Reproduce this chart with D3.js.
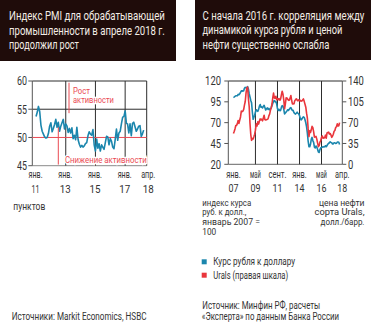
<!DOCTYPE html>
<html><head><meta charset="utf-8">
<script src="https://cdn.jsdelivr.net/npm/d3@7"></script>
<style>
html,body{margin:0;padding:0;background:#fff;}
svg{display:block;}
text{font-family:Roboto,"Noto Sans","DejaVu Sans",sans-serif;}
</style></head><body>
<svg id="c" width="371" height="324"></svg>
<script>
// ---------- DATA ----------
// Left chart: Russia manufacturing PMI, monthly Jan 2011 .. Apr 2018
const pmiStart = [2011, 0];
const pmiValues = [
 53.7,54.5,55.5,54.6,52.2,51.1,50.6,50.1,49.9,50.0,50.7,52.0,
 52.6,51.0,51.6,52.3,53.2,51.8,52.7,51.1,52.0,52.6,53.2,51.5,
 52.4,52.0,50.9,51.6,50.8,51.7,49.8,50.4,49.6,51.8,49.6,48.8,
 48.3,48.6,48.3,48.5,48.9,49.1,50.3,51.0,50.6,50.4,51.4,48.7,
 47.6,49.7,48.1,48.9,47.6,48.7,48.3,47.9,49.1,50.2,50.1,48.7,
 49.8,49.3,48.3,48.0,49.6,51.5,49.5,50.8,51.1,52.4,53.6,53.7,
 54.7,52.5,52.4,50.8,52.4,50.3,52.5,52.7,51.9,51.1,51.5,52.0,
 52.1,50.2,50.6,51.3
];
const pmiYTicks = [45, 50, 55, 60];
const pmiXTicks = [
  {date:[2011,0], l1:"янв.", l2:"11"},
  {date:[2013,0], l1:"янв.", l2:"13"},
  {date:[2015,0], l1:"янв.", l2:"15"},
  {date:[2017,0], l1:"янв.", l2:"17"},
  {date:[2018,3], l1:"апр.", l2:"18"}
];
// Right chart: monthly Jan 2007 .. Apr 2018
const fxStart = [2007, 0];
const rubIndex = [ // ruble vs USD index, Jan 2007 = 100
 100,100.8,101.5,102.3,102.3,102.3,103.9,103.5,104.7,106.4,108.2,107.7,
 108.2,108.2,111.3,112.3,111.8,112.3,113.2,110.4,104.7,100.8,96.7,94.0,
 82.8,74.0,76.6,78.9,82.8,85.5,84.1,83.6,86.0,89.8,91.7,88.6,
 88.9,87.7,89.5,90.8,88.3,85.2,86.6,87.7,85.8,87.2,85.5,86.3,
 88.0,90.4,93.0,95.5,96.5,95.0,95.5,92.3,86.9,84.7,86.0,84.4,
 84.7,88.6,90.4,89.8,86.0,80.5,81.5,82.8,84.1,85.5,84.7,86.0,
 87.5,88.0,86.0,84.7,84.7,82.0,81.0,80.3,81.3,82.6,81.3,80.5,
 78.4,75.1,73.2,74.2,75.9,77.0,76.4,73.4,69.9,65.0,57.4,47.7,
 41.2,41.0,44.0,50.0,52.3,48.5,46.4,40.6,39.7,42.0,40.7,38.0,
 34.7,34.3,37.6,39.7,40.3,40.6,41.2,40.8,41.0,42.3,41.1,42.6,
 44.2,45.4,45.6,47.0,46.3,45.8,44.4,44.5,45.9,45.9,44.9,45.2,
 46.7,46.7,46.5,43.8
];
const urals = [ // USD/bbl, right axis
 51.9,55.5,59.5,65.2,65.4,68.4,73.7,68.8,74.5,79.6,89.5,88.5,
 89.5,92.3,99.4,105.6,119.5,128.3,129.7,110.5,96.8,69.4,50.0,40.3,
 43.2,42.6,46.2,50.6,57.4,68.1,64.4,71.5,67.6,72.8,76.3,74.6,
 75.9,73.0,77.3,82.5,75.3,74.5,74.8,75.6,76.4,81.3,84.3,90.7,
 94.6,101.3,111.4,119.7,111.6,111.0,114.4,108.4,110.5,108.7,110.4,107.6,
 110.1,117.0,122.8,117.7,108.4,93.3,101.0,111.6,111.5,109.2,107.5,107.8,
 111.2,115.5,107.6,101.6,101.6,101.7,107.0,108.7,110.2,107.7,106.7,108.3,
 106.8,107.5,106.2,106.3,108.0,109.9,105.8,101.0,96.0,86.0,77.5,60.3,
 46.6,56.5,53.4,57.9,63.8,61.5,55.0,45.7,46.3,46.9,42.3,35.9,
 29.7,31.5,37.2,39.7,45.3,47.6,44.0,44.4,44.8,49.0,44.0,52.7,
 53.5,54.1,50.8,51.8,49.4,45.3,47.4,50.5,55.5,56.8,61.8,63.1,
 68.0,64.3,64.9,70.0
];
const fxLeftTicks = [20, 45, 70, 95, 120];
const fxRightTicks = [0, 35, 70, 105, 140];
const fxXTicks = [
  {date:[2007,0], l1:"янв.", l2:"07"},
  {date:[2009,4], l1:"май", l2:"09"},
  {date:[2011,8], l1:"сент.", l2:"11"},
  {date:[2014,0], l1:"янв.", l2:"14"},
  {date:[2016,4], l1:"май", l2:"16"},
  {date:[2018,3], l1:"апр.", l2:"18"}
];
const titleLeft = ["Индекс PMI для обрабатывающей","промышленности в апреле 2018 г.","продолжил рост"];
const titleRight = ["С начала 2016 г. корреляция между","динамикой курса рубля и ценой","нефти существенно ослабла"];
const legendItems = [{label:"Курс рубля к доллару", key:"blue"},{label:"Urals (правая шкала)", key:"red"}];

// ---------- DRAW ----------
const BLUE = "#1b86ad", RED = "#e9363c", PINK = "#ea4a53", GRID = "#2d2d2d", TXT = "#333";
const svg = d3.select("#c");
const md = (s, i) => new Date(s[0], s[1] + i, 1);

// text helper: natural font, horizontally condensed to a target width
function txt(g, x, y, s, o = {}) {
  const t = g.append("text").attr("x", 0).attr("y", 0).text(s)
    .attr("font-size", o.size || 11).attr("fill", o.fill || TXT)
    .attr("text-anchor", o.anchor || "start");
  let tr = `translate(${x},${y})`;
  if (o.len) {
    const w = t.node().getComputedTextLength();
    if (w > 0) tr += ` scale(${(o.len / w).toFixed(4)},1)`;
  }
  t.attr("transform", tr);
  return t;
}

// headers
svg.append("rect").attr("x",0).attr("y",0).attr("width",176).attr("height",61).attr("fill","#1f0c0a");
svg.append("rect").attr("x",195).attr("y",0).attr("width",176).attr("height",60).attr("fill","#1f0c0a");
const tl = [156,156,70], tr = [162,140,127];
titleLeft.forEach((s,i)=>txt(svg, 9, 20+i*14.7, s, {size:12.3, fill:"#f3ece6", len:tl[i]}));
titleRight.forEach((s,i)=>txt(svg, 202.5, 20+i*14.3, s, {size:12, fill:"#f3ece6", len:tr[i]}));

// ---- left chart ----
const xL = d3.scaleTime().domain([new Date(2010,9,1), new Date(2018,5,15)]).range([32.3,146.7]);
const yL = d3.scaleLinear().domain([45,60]).range([165.7,81]);
const gL = svg.append("g");
[55,60].forEach(v=>gL.append("line").attr("x1",xL.range()[0]).attr("x2",xL.range()[1])
  .attr("y1",yL(v)).attr("y2",yL(v)).attr("stroke",GRID).attr("stroke-width",1));
gL.append("line").attr("x1",xL.range()[0]).attr("x2",xL.range()[1]).attr("y1",yL(45)).attr("y2",yL(45))
  .attr("stroke","#8a8a8a").attr("stroke-width",1);
pmiXTicks.slice(1,4).forEach(t=>gL.append("line").attr("x1",xL(md(t.date,0))).attr("x2",xL(md(t.date,0)))
  .attr("y1",yL(60)).attr("y2",yL(45)).attr("stroke",GRID));
gL.append("line").attr("x1",xL.range()[1]).attr("x2",xL.range()[1]).attr("y1",yL(60)).attr("y2",yL(45)).attr("stroke",GRID);
gL.append("line").attr("x1",xL.range()[0]).attr("x2",xL.range()[0]).attr("y1",yL(60)).attr("y2",yL(45)).attr("stroke","#555");
pmiYTicks.forEach(v=>{
  gL.append("line").attr("x1",xL.range()[0]-4).attr("x2",xL.range()[0]).attr("y1",yL(v)).attr("y2",yL(v)).attr("stroke","#555");
  txt(gL, 27, yL(v)+4.3, v, {size:12.5, anchor:"end", len:10});
});
gL.append("line").attr("x1",xL.range()[0]).attr("x2",xL.range()[1]).attr("y1",yL(50)).attr("y2",yL(50))
  .attr("stroke",PINK).attr("stroke-width",1);
gL.append("path").datum(pmiValues).attr("fill","none").attr("stroke",BLUE).attr("stroke-width",1.6)
  .attr("stroke-linejoin","round")
  .attr("d", d3.line().x((d,i)=>xL(md(pmiStart,i))).y(d=>yL(d)));
// annotations
gL.append("line").attr("x1",69).attr("x2",69).attr("y1",yL(59.7)).attr("y2",yL(54.3)).attr("stroke",PINK).attr("stroke-width",1);
gL.append("line").attr("x1",58.3).attr("x2",58.3).attr("y1",yL(51.8)).attr("y2",yL(45.2)).attr("stroke",PINK).attr("stroke-width",1);
const ann = (x,y,s,len)=>txt(gL,x,y,s,{size:9, fill:PINK, len:len}).attr("stroke","#fff").attr("stroke-width",2.5)
  .attr("paint-order","stroke");
ann(73,93.5,"Рост",17);
ann(73,103.3,"активности",41);
ann(65,162.7,"Снижение активности",82);
pmiXTicks.forEach((t,i)=>{
  const x = xL(md(t.date,0)) + (i===4?4.5:-0.5);
  txt(gL, x, 178, t.l1, {size:10.5, anchor:"middle", len:14});
  txt(gL, x, 193, t.l2, {size:11.5, anchor:"middle", len:i===0?8:11});
});
txt(svg, 13.3, 209.5, "пунктов", {size:10, len:32});

// ---- right chart ----
const xR = d3.scaleTime().domain([new Date(2006,5,15), new Date(2018,6,15)]).range([228.3,342.3]);
const yR1 = d3.scaleLinear().domain([20,120]).range([164.3,81]);
const yR2 = d3.scaleLinear().domain([0,140]).range([164.3,81]);
const gR = svg.append("g");
[120,20].forEach(v=>gR.append("line").attr("x1",xR.range()[0]).attr("x2",xR.range()[1])
  .attr("y1",yR1(v)).attr("y2",yR1(v)).attr("stroke",v===120?GRID:"#666"));
fxXTicks.slice(1,5).forEach(t=>gR.append("line").attr("x1",xR(md(t.date,0))).attr("x2",xR(md(t.date,0)))
  .attr("y1",yR1(120)).attr("y2",yR1(20)).attr("stroke",GRID));
gR.append("line").attr("x1",xR.range()[1]).attr("x2",xR.range()[1]).attr("y1",yR1(120)).attr("y2",yR1(20)).attr("stroke","#555");
gR.append("line").attr("x1",xR.range()[0]).attr("x2",xR.range()[0]).attr("y1",yR1(120)).attr("y2",yR1(20)).attr("stroke","#555");
fxLeftTicks.forEach(v=>{
  gR.append("line").attr("x1",xR.range()[0]-4).attr("x2",xR.range()[0]).attr("y1",yR1(v)).attr("y2",yR1(v)).attr("stroke","#555");
  txt(gR, 221, yR1(v)+4.3, v, {size:12.5, anchor:"end", len:String(v).length*5.3});
});
fxRightTicks.forEach(v=>{
  gR.append("line").attr("x1",xR.range()[1]).attr("x2",xR.range()[1]+4).attr("y1",yR2(v)).attr("y2",yR2(v)).attr("stroke","#555");
  txt(gR, 348, yR2(v)+4.3, v, {size:12.5, len:String(v).length*5.3});
});
const lineR = (arr, y) => d3.line().x((d,i)=>xR(md(fxStart,i))).y(d=>y(d))(arr);
gR.append("path").attr("d", lineR(rubIndex, yR1)).attr("fill","none").attr("stroke",BLUE).attr("stroke-width",1.6).attr("stroke-linejoin","round");
gR.append("path").attr("d", lineR(urals, yR2)).attr("fill","none").attr("stroke",RED).attr("stroke-width",1.6).attr("stroke-linejoin","round");
fxXTicks.forEach((t,i)=>{
  const x = xR(md(t.date,0)) + (i===5?2.7:0);
  txt(gR, x, 178, t.l1, {size:10.5, anchor:"middle", len:t.l1.length*3.6});
  txt(gR, x, 191.5, t.l2, {size:11.5, anchor:"middle", len:10});
});
[["индекс курса",49],["руб. к долл.,",44],["январь 2007 =",57.7],["100",14]].forEach((d,i)=>
  txt(svg, 202.3, 205.5+i*9.9, d[0], {size:9.5, len:d[1]}));
[["цена нефти",45.7],["сорта Urals,",50],["долл./барр.",44]].forEach((d,i)=>
  txt(svg, 364.5, 205.5+i*9.9, d[0], {size:9.5, anchor:"end", len:d[1]}));
const lc = {blue:BLUE, red:RED}, ll = [82,75];
legendItems.forEach((d,i)=>{
  svg.append("rect").attr("x",201.7).attr("y",259.3+i*13.4).attr("width",5).attr("height",5).attr("fill",lc[d.key]);
  txt(svg, 213.3, 265.3+i*13.4, d.label, {size:11, len:ll[i]});
});
txt(svg, 11.7, 320.3, "Источники: Markit Economics, HSBC", {size:11, len:135});
txt(svg, 202.3, 308.5, "Источник: Минфин РФ,  расчеты", {size:11, len:118});
txt(svg, 201.7, 320.3, "«Эксперта» по данным Банка России", {size:11, len:137.5});
</script>
</body></html>
